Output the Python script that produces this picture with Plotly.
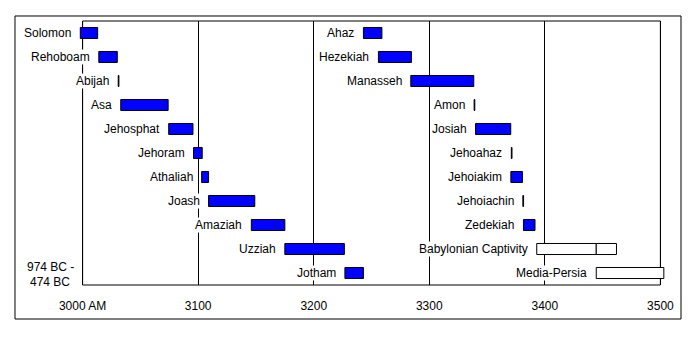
import plotly.graph_objects as go

# Reigns and periods, by row (0 = top). Start/end in years Anno Mundi.
names = ["Solomon", "Rehoboam", "Abijah", "Asa", "Jehosphat", "Jehoram",
         "Athaliah", "Joash", "Amaziah", "Uzziah", "Jotham",
         "Ahaz", "Hezekiah", "Manasseh", "Amon", "Josiah", "Jehoahaz",
         "Jehoiakim", "Jehoiachin", "Zedekiah"]
rows = [0, 1, 2, 3, 4, 5, 6, 7, 8, 9, 10,
        0, 1, 2, 3, 4, 5, 6, 7, 8]
starts = [2998, 3014, 3030.8, 3033, 3074.5, 3096, 3103, 3109, 3146, 3175, 3227,
          3243, 3256, 3284, 3338.8, 3340, 3371, 3370.6, 3381, 3381.5]
ends = [3013, 3030, 3031.4, 3074, 3095.5, 3103.5, 3109, 3149, 3175, 3226.5, 3243,
        3259, 3284.5, 3338.5, 3339.4, 3370.5, 3371.6, 3380.6, 3381.6, 3391.5]

# Foreign periods drawn as open (white) bars
period_names = ["Babylonian Captivity", "", "Media-Persia"]
period_rows = [9, 9, 10]
period_starts = [3393, 3444.5, 3444.5]
period_ends = [3444.5, 3462, 3503]

tick_vals = [3000, 3100, 3200, 3300, 3400, 3500]
tick_text = ["3000 AM", "3100", "3200", "3300", "3400", "3500"]

FONT = dict(family="Liberation Sans, Arial, sans-serif", size=12, color="black")

fig = go.Figure()

fig.add_trace(go.Bar(
    orientation="h",
    y=rows,
    base=starts,
    x=[e - s for s, e in zip(starts, ends)],
    width=0.46,
    marker=dict(color="#0000FF", line=dict(color="black", width=1)),
    hoverinfo="skip",
    showlegend=False,
))

fig.add_trace(go.Bar(
    orientation="h",
    y=period_rows,
    base=period_starts,
    x=[e - s for s, e in zip(period_starts, period_ends)],
    width=0.46,
    marker=dict(color="white", line=dict(color="black", width=1)),
    hoverinfo="skip",
    showlegend=False,
))

# Name labels just left of each bar, on a white background
annotations = []
for n, r, s in list(zip(names, rows, starts)) + list(zip(period_names, period_rows, period_starts)):
    if not n:
        continue
    annotations.append(dict(
        x=s, y=r, xref="x", yref="y", text=n, showarrow=False,
        xanchor="right", yanchor="middle", xshift=-8,
        bgcolor="white", borderpad=0, font=FONT,
    ))

# Date span note in the lower-left corner
for line, yp in [("974 BC -", 0.0670), ("474 BC", 0.0125)]:
    annotations.append(dict(
        x=-0.0477, y=yp, xref="paper", yref="paper",
        text=line, showarrow=False,
        xanchor="center", yanchor="middle", font=FONT,
    ))

shapes = [
    # plot frame
    dict(type="rect", xref="x", yref="paper", x0=3000, x1=3500, y0=0, y1=1,
         line=dict(color="black", width=1), layer="below"),
    # outer border
    dict(type="rect", xref="paper", yref="paper",
         x0=-0.10733, x1=1.02726, y0=-0.12879, y1=1.01894,
         line=dict(color="black", width=1), layer="below"),
]

fig.update_layout(
    width=699, height=342,
    margin=dict(l=78, r=34, t=21, b=57),
    paper_bgcolor="white", plot_bgcolor="white",
    barmode="overlay",
    annotations=annotations,
    shapes=shapes,
    font=FONT,
)

fig.update_xaxes(
    range=[2996, 3504],
    tickvals=tick_vals, ticktext=tick_text,
    showgrid=True, gridcolor="black", gridwidth=1,
    showline=False, zeroline=False,
    ticks="outside", ticklen=10, tickcolor="white",
    tickfont=FONT,
)
fig.update_yaxes(
    range=[10.5, -0.5],
    showgrid=False, zeroline=False, showline=False,
    showticklabels=False, ticks="",
)

fig.write_html("out.html")
